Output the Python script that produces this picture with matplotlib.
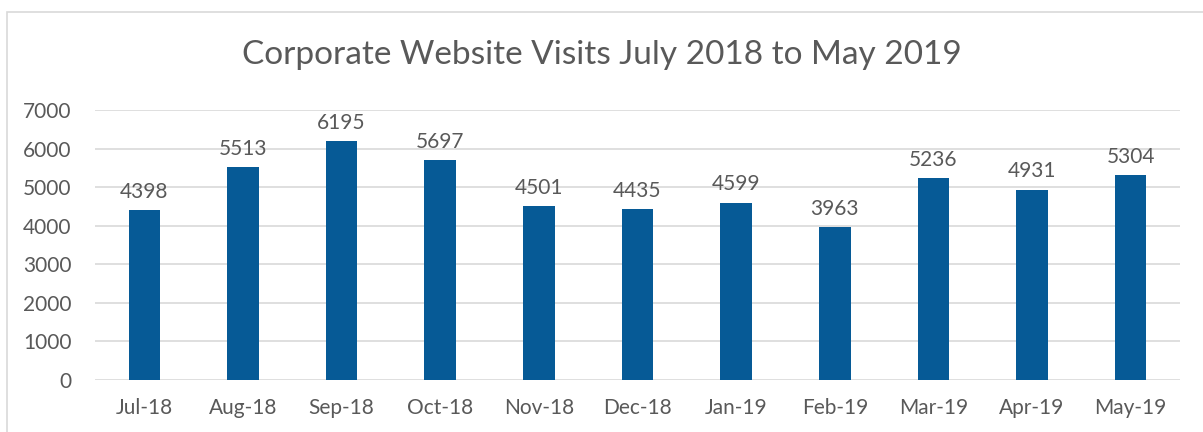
import matplotlib.pyplot as plt
from matplotlib.patches import Rectangle

months = ['Jul-18', 'Aug-18', 'Sep-18', 'Oct-18', 'Nov-18', 'Dec-18',
          'Jan-19', 'Feb-19', 'Mar-19', 'Apr-19', 'May-19']
visits = [4398, 5513, 6195, 5697, 4501, 4435, 4599, 3963, 5236, 4931, 5304]

TXT = '#595959'
plt.rcParams['font.family'] = ['Lato', 'DejaVu Sans']

fig = plt.figure(figsize=(12.03, 4.32), dpi=100)
# chart border (runs off the right and bottom edges like the source)
fig.patches.append(Rectangle((7 / 1203, -0.1), 1.2, 1 - 12 / 432 + 0.1,
                             transform=fig.transFigure, fill=False,
                             edgecolor='#D9D9D9', linewidth=1.2))

ax = fig.add_axes([95 / 1203, 52 / 432, 1085 / 1203, 270 / 432])
x = range(len(months))
bars = ax.bar(x, visits, width=0.32, color='#065A96', zorder=3)
ax.bar_label(bars, padding=6, fontsize=15, color=TXT)

ax.set_xlim(-0.5, len(months) - 0.5)
ax.set_ylim(0, 7000)
ax.set_yticks(range(0, 7001, 1000))
ax.set_xticks(list(x))
ax.set_xticklabels(months)
ax.grid(axis='y', color='#D9D9D9', linewidth=1.2, zorder=0)
for s in ax.spines.values():
    s.set_visible(False)
ax.tick_params(length=0, labelsize=15, labelcolor=TXT)
ax.tick_params(axis='x', pad=13)
ax.tick_params(axis='y', pad=17)

fig.text(0.5, 1 - 55 / 432, 'Corporate Website Visits July 2018 to May 2019',
         ha='center', va='center', fontsize=24, color=TXT)

fig.savefig('out.png', dpi=100)
